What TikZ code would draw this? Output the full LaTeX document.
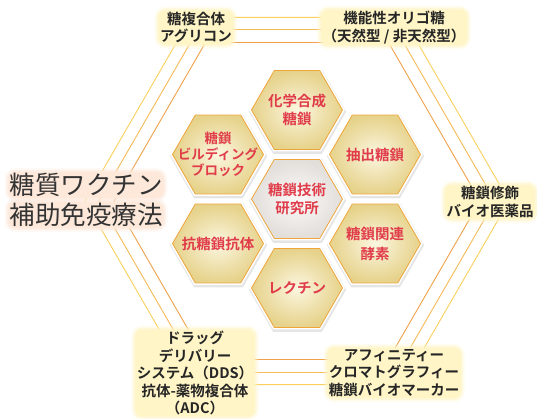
\documentclass[tikz,border=0pt]{standalone}
\usepackage{fontspec}
\newfontfamily\jp{Noto Sans CJK JP}[BoldFont={* Bold}]
\usetikzlibrary{shadows}
\definecolor{hexred}{HTML}{E03C4A}
\definecolor{lineA}{HTML}{FAD05C}
\definecolor{lineB}{HTML}{F6BA58}
\definecolor{lineC}{HTML}{F0A24A}
\definecolor{hexedge}{HTML}{EFA53A}
\definecolor{hexin}{HTML}{FBF6E0}
\definecolor{hexout}{HTML}{E6D28A}
\definecolor{cin}{HTML}{FBFAF9}
\definecolor{cout}{HTML}{E2DEDA}
\definecolor{ink}{HTML}{262626}
\definecolor{bigink}{HTML}{333333}
\definecolor{glowY}{HTML}{FFF5C6}
\definecolor{glowO}{HTML}{FDE8DA}
\begin{document}
\begin{tikzpicture}[x=1pt,y=-1pt,
  ring/.style={line width=0.9pt},
  hexshape/.style={draw=hexedge, line width=0.8pt, inner color=hexin, outer color=hexout,
    drop shadow={opacity=0.2, shadow scale=1.07, shadow xshift=0.5pt, shadow yshift=-1.5pt},
    preaction={draw=white, line width=4pt}},
  hexcenter/.style={hexshape, inner color=cin, outer color=cout},
  hxt/.style={font=\jp\bfseries\fontsize{14.5}{18.5}\selectfont, text=hexred, align=center, inner sep=0pt},
  lbl/.style={font=\jp\bfseries\fontsize{14.5}{17.5}\selectfont, text=ink, align=center,
    inner sep=1.5pt, fill=glowY, rounded corners=7pt,
    preaction={draw=glowY, line width=8pt, draw opacity=0.25},
    preaction={draw=glowY, line width=4pt, draw opacity=0.55}},
  biglbl/.style={font=\jp\fontsize{25.5}{30}\selectfont, text=bigink, inner sep=1pt,
    fill=glowO, rounded corners=7pt,
    preaction={draw=glowO, line width=8pt, draw opacity=0.25},
    preaction={draw=glowO, line width=4pt, draw opacity=0.55}}
]
\useasboundingbox (0,0) rectangle (537,419);
\fill[white] (0,0) rectangle (537,419);

% concentric outer hexagons
\coordinate (C) at (297,201);
\draw[ring, draw=lineA] ([shift={(0:212)}]C) -- ([shift={(60:212)}]C) -- ([shift={(120:212)}]C)
  -- ([shift={(180:212)}]C) -- ([shift={(240:212)}]C) -- ([shift={(300:212)}]C) -- cycle;
\draw[ring, draw=lineB] ([shift={(0:198)}]C) -- ([shift={(60:198)}]C) -- ([shift={(120:198)}]C)
  -- ([shift={(180:198)}]C) -- ([shift={(240:198)}]C) -- ([shift={(300:198)}]C) -- cycle;
\draw[ring, draw=lineC] ([shift={(0:183)}]C) -- ([shift={(60:183)}]C) -- ([shift={(120:183)}]C)
  -- ([shift={(180:183)}]C) -- ([shift={(240:183)}]C) -- ([shift={(300:183)}]C) -- cycle;

% labels at the vertices
\node[lbl] (tl) at (196,27.5) {糖複合体\\アグリコン};
\node[lbl] (tr) at (394,27.5) {機能性オリゴ糖\\（天然型 / 非天然型）};
\node[lbl] (rt) at (490,202) {糖鎖修飾\\バイオ医薬品};
\node[lbl] (br) at (394,373) {アフィニティー\\クロマトグラフィー\\糖鎖バイオマーカー};
\node[lbl] (bl) at (195,373) {ドラッグ\\デリバリー\\システム（DDS）\\抗体-薬物複合体\\（ADC）};
\node[biglbl] (lt1) at (86,185) {糖質ワクチン};
\node[biglbl] (lt2) at (86,215) {補助免疫療法};

% honeycomb
\foreach \n/\x/\y/\s in {a/297/110/hexshape, b/218/154.5/hexshape, c/375/154.5/hexshape,
    e/218/243.5/hexshape, f/375/243.5/hexshape, g/297/288/hexshape, d/297/199/hexcenter} {
  \coordinate (h\n) at (\x,\y);
  \path[\s] ([shift={(0:45.5)}]h\n) -- ++(120:45.5) -- ++(180:45.5) -- ++(240:45.5)
    -- ++(300:45.5) -- ++(0:45.5) -- cycle;
}
\node[hxt] (ta) at (ha) {化学合成\\糖鎖};
\node[hxt, font=\jp\bfseries\fontsize{13.5}{16}\selectfont] (tb) at (hb) {糖鎖\\ビルディング\\ブロック};
\node[hxt] (tc) at (hc) {抽出糖鎖};
\node[hxt] (td) at (hd) {糖鎖技術\\研究所};
\node[hxt] (te) at (he) {抗糖鎖抗体};
\node[hxt, font=\jp\bfseries\fontsize{14.5}{20}\selectfont] (tf) at (hf) {糖鎖関連\\酵素};
\node[hxt] (tg) at (hg) {レクチン};
\end{tikzpicture}
\end{document}
